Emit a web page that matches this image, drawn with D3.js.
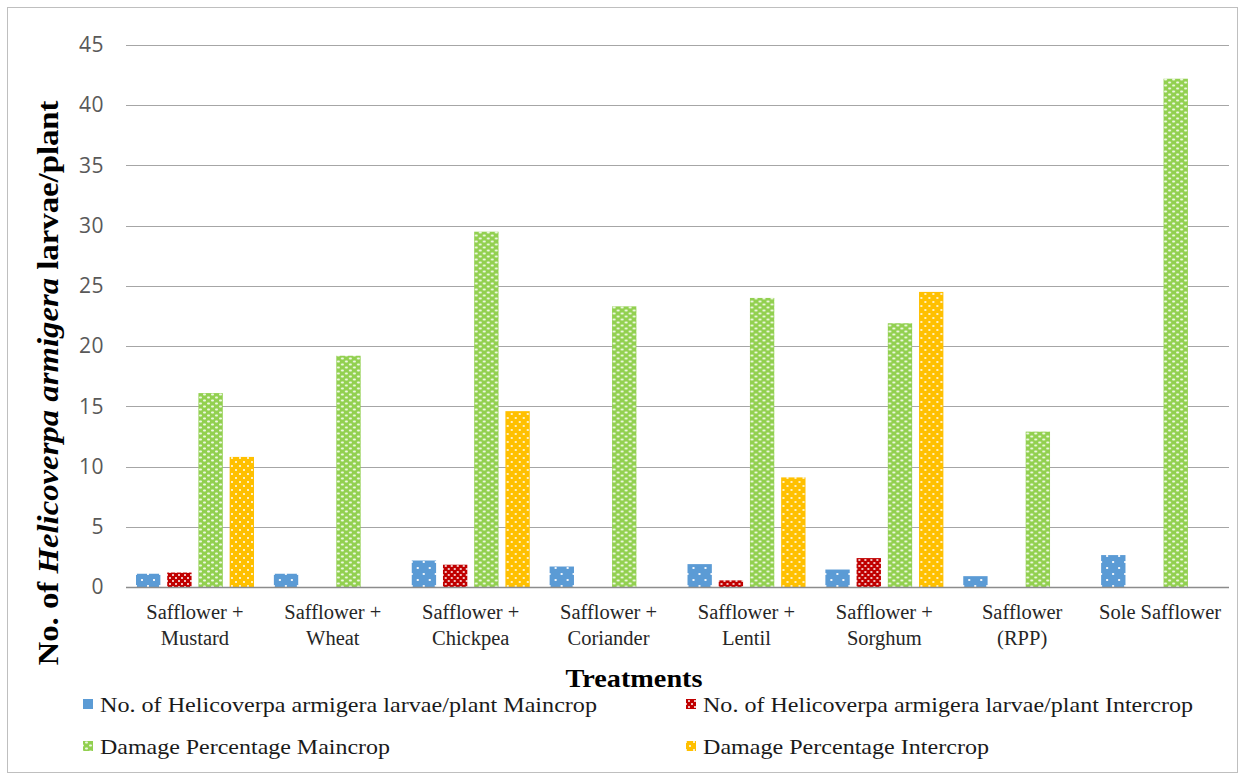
<!DOCTYPE html>
<html><head><meta charset="utf-8">
<script src="https://cdn.jsdelivr.net/npm/d3@7"></script>
<style>body{margin:0;background:#fff}</style>
</head><body><svg id="c" width="1244" height="780"></svg>
<script>
const categories = [["Safflower +","Mustard"],["Safflower +","Wheat"],["Safflower +","Chickpea"],["Safflower +","Coriander"],["Safflower +","Lentil"],["Safflower +","Sorghum"],["Safflower","(RPP)"],["Sole Safflower"]];
const seriesNames = ["No. of Helicoverpa armigera larvae/plant Maincrop","No. of Helicoverpa armigera larvae/plant Intercrop","Damage Percentage Maincrop","Damage Percentage Intercrop"];
const larvaeMain = [1.1, 1.1, 2.2, 1.7, 1.9, 1.45, 0.9, 2.65];
const larvaeInter = [1.2, 0, 1.85, 0, 0.55, 2.4, 0, 0];
const damageMain = [16.1, 19.2, 29.5, 23.3, 24.0, 21.9, 12.9, 42.2];
const damageInter = [10.8, 0, 14.6, 0, 9.1, 24.5, 0, 0];
const yTicks = [0,5,10,15,20,25,30,35,40,45];
const colors = ["#5b9bd5","#c00000","#92d050","#ffc000"];

const svg = d3.select("#c");
const defs = svg.append("defs");
function pat(id, w, h, color, dots){
  const p = defs.append("pattern").attr("id",id).attr("patternUnits","userSpaceOnUse").attr("width",w).attr("height",h);
  p.append("rect").attr("width",w).attr("height",h).attr("fill",color);
  dots.forEach(d=>p.append("rect").attr("x",d[0]).attr("y",d[1]).attr("width",d[2]).attr("height",d[3]).attr("rx",d[4]||0).attr("fill","#fff").attr("opacity",d[5]||1));
}
pat("p0",12,12,colors[0],[[3,3,2,2,0,0.9],[9,9,2,2,0,0.9]]);
pat("p1",6,6,colors[1],[[1,1,2,2,1],[4,4,2,2,1]]);
pat("p2",8,6,colors[2],[[1,0.5,3,2,1,0.85],[5,3.5,3,2,1,0.85]]);
pat("p3",8,8,colors[3],[[1,1,2,2,1],[5,5,2,2,1]]);

svg.append("rect").attr("x",7.5).attr("y",7.5).attr("width",1230).attr("height",765).attr("fill","none").attr("stroke","#bfbfbf").attr("stroke-width",1);

const x0 = d3.scaleBand().domain(d3.range(categories.length)).range([126,1229]).paddingInner(0).paddingOuter(0);
const x1 = d3.scaleBand().domain(d3.range(4)).range([10,128]).paddingInner(0.22).paddingOuter(0);
const y = d3.scaleLinear().domain([0,45]).range([587,45]);

const g = svg.append("g");
g.selectAll("line.grid").data(yTicks.slice(1)).enter().append("line")
  .attr("x1",126).attr("x2",1229).attr("y1",d=>Math.round(y(d))+0.5).attr("y2",d=>Math.round(y(d))+0.5)
  .attr("stroke","#a6a6a6").attr("stroke-width",1);

const yAxis = d3.axisLeft(y).tickValues(yTicks).tickSize(0).tickPadding(22);
const ya = svg.append("g").attr("transform","translate(126,0)").call(yAxis);
ya.select(".domain").remove();
ya.selectAll("text").attr("font-family","'Open Sans', sans-serif").attr("font-size",21).attr("letter-spacing",0.5).attr("fill","#595959");

const data = [larvaeMain, larvaeInter, damageMain, damageInter];
const groups = svg.append("g").selectAll("g").data(categories).enter().append("g")
  .attr("transform",(d,i)=>`translate(${x0(i)},0)`);
groups.each(function(c,i){
  d3.select(this).selectAll("rect").data(data.map((s,k)=>({k, v:s[i]})).filter(d=>d.v>0)).enter().append("rect")
    .attr("x",d=>x1(d.k)).attr("width",x1.bandwidth())
    .attr("y",d=>y(d.v)).attr("height",d=>y(0)-y(d.v))
    .attr("fill",d=>`url(#p${d.k})`);
});

svg.append("line").attr("x1",126).attr("x2",1229).attr("y1",587.5).attr("y2",587.5).attr("stroke","#8c8c8c").attr("stroke-width",1.3);

const xl = svg.append("g");
categories.forEach((c,i)=>{
  const t = xl.append("text").attr("x",x0(i)+x0.bandwidth()/2).attr("y",619)
    .attr("text-anchor","middle").attr("font-family","'Liberation Serif', serif").attr("font-size",20.5).attr("fill","#262626");
  c.forEach((line,j)=>t.append("tspan").attr("x",x0(i)+x0.bandwidth()/2).attr("dy",j?26:0).text(line));
});

svg.append("text").attr("x",634).attr("y",687).attr("text-anchor","middle")
  .attr("font-family","'Liberation Serif', serif").attr("font-weight","bold").attr("font-size",25)
  .attr("textLength",137).attr("lengthAdjust","spacingAndGlyphs").attr("fill","#000").text("Treatments");

const yt = svg.append("text").attr("transform","translate(58,383) rotate(-90)").attr("text-anchor","middle")
  .attr("font-family","'Liberation Serif', serif").attr("font-weight","bold").attr("font-size",30)
  .attr("textLength",565).attr("lengthAdjust","spacingAndGlyphs").attr("fill","#000");
yt.append("tspan").text("No. of ");
yt.append("tspan").attr("font-style","italic").text("Helicoverpa armigera");
yt.append("tspan").text(" larvae/plant");

const legPos = [[83,706],[686,706],[83,748],[686,748]];
const legLen = [497,490,290,286];
seriesNames.forEach((n,k)=>{
  const [lx,ly] = legPos[k];
  svg.append("rect").attr("x",lx).attr("y",ly-7).attr("width",10).attr("height",10).attr("fill",k===0?colors[0]:`url(#p${k})`);
  svg.append("text").attr("x",lx+17).attr("y",ly+6).attr("font-family","'Liberation Serif', serif").attr("font-size",22)
    .attr("textLength",legLen[k]).attr("lengthAdjust","spacingAndGlyphs").attr("fill","#1a1a1a").text(n);
});
</script></body></html>
